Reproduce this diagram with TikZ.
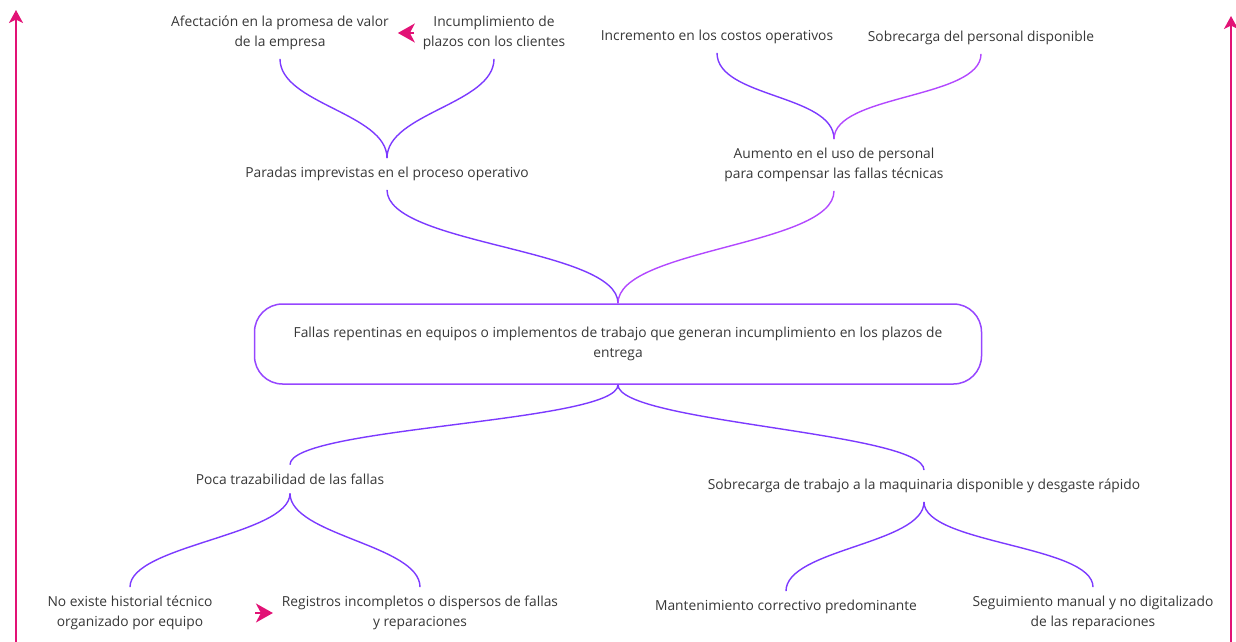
\documentclass[tikz,border=0pt]{standalone}
\usepackage{fontspec}
\setmainfont{Open Sans}
\usetikzlibrary{arrows.meta}
\definecolor{violetL}{RGB}{124,58,255}
\definecolor{violetR}{RGB}{178,72,255}
\definecolor{violetM}{RGB}{150,70,255}
\definecolor{pinkarrow}{RGB}{226,18,118}
\definecolor{textgray}{RGB}{55,55,55}

\begin{document}
\begin{tikzpicture}[x=1pt, y=-1pt,
  lbl/.style={align=center, font=\fontsize{13.8}{20}\selectfont, text=textgray, inner sep=0pt, outer sep=9pt},
  box/.style={draw=violetM, line width=1.5pt, rounded corners=28pt, minimum width=727pt, minimum height=80pt,
    align=center, font=\fontsize{13.8}{20}\selectfont, text=textgray},
  brL/.style={draw=violetL, line width=1.4pt},
  brR/.style={draw=violetR, line width=1.4pt},
  tip/.style={draw=pinkarrow, line width=2pt, -{Stealth[length=13pt, width=14pt, inset=3.5pt]}},
  bigtip/.style={draw=pinkarrow, line width=2pt, -{Stealth[length=17pt, width=19pt, inset=5pt]}}]
\useasboundingbox (0,0) rectangle (1236,642);

\node[lbl] (afect) at (280,33) {Afectación en la promesa de valor\\de la empresa};
\node[lbl] (incum) at (494,33) {Incumplimiento de\\plazos con los clientes};
\node[lbl] (incre) at (717,37) {Incremento en los costos operativos};
\node[lbl] (sobrep) at (981,38) {Sobrecarga del personal disponible};
\node[lbl] (paradas) at (387,174) {Paradas imprevistas en el proceso operativo};
\node[lbl] (aumento) at (834,165) {Aumento en el uso de personal\\para compensar las fallas técnicas};
\node[box] (fallas) at (618,344) {Fallas repentinas en equipos o implementos de trabajo que generan incumplimiento en los plazos de\\entrega};
\node[lbl] (poca) at (290,479) {Poca trazabilidad de las fallas};
\node[lbl] (sobret) at (924,486) {Sobrecarga de trabajo a la maquinaria disponible y desgaste rápido};
\node[lbl] (noexiste) at (130,613) {No existe historial técnico\\organizado por equipo};
\node[lbl] (registros) at (420,613) {Registros incompletos o dispersos de fallas\\y reparaciones};
\node[lbl] (manten) at (786,607) {Mantenimiento correctivo predominante};
\node[lbl] (seguim) at (1093,613) {Seguimiento manual y no digitalizado\\de las reparaciones};

% llaves superiores
\draw[brL] (afect.south) .. controls +(0,45) and +(0,-45) .. (paradas.north);
\draw[brL] (incum.south) .. controls +(0,45) and +(0,-45) .. (paradas.north);
\draw[brL] (incre.south) .. controls +(0,45) and +(0,-45) .. (aumento.north);
\draw[brR] (sobrep.south) .. controls +(0,45) and +(0,-45) .. (aumento.north);
\draw[brL] (paradas.south) .. controls +(0,55) and +(0,-55) .. (fallas.north);
\draw[brR] (aumento.south) .. controls +(0,55) and +(0,-55) .. (fallas.north);

% llaves inferiores
\draw[brL] (fallas.south) .. controls +(0,38) and +(0,-38) .. (poca.north);
\draw[brL] (fallas.south) .. controls +(0,38) and +(0,-38) .. (sobret.north);
\draw[brL] (poca.south) .. controls +(0,42) and +(0,-42) .. (noexiste.north);
\draw[brL] (poca.south) .. controls +(0,42) and +(0,-42) .. (registros.north);
\draw[brL] (sobret.south) .. controls +(0,42) and +(0,-42) .. (manten.north);
\draw[brL] (sobret.south) .. controls +(0,42) and +(0,-42) .. (seguim.north);

% flechas
\draw[bigtip] (incum.west) -- (afect.east);
\draw[bigtip, shorten <=34pt] (noexiste.east) -- (registros.west);
\coordinate (lbot) at (16,645);
\coordinate (ltop) at (16,10);
\coordinate (rbot) at (1231,645);
\coordinate (rtop) at (1231,16);
\draw[tip] (lbot) -- (ltop);
\draw[tip] (rbot) -- (rtop);
\end{tikzpicture}
\end{document}
